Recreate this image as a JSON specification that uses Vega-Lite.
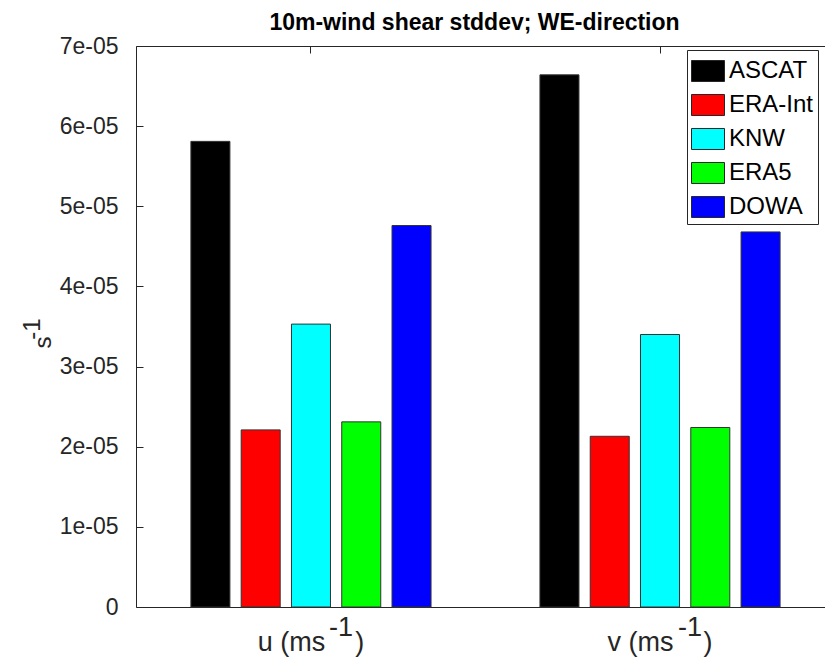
{
  "$schema": "https://vega.github.io/schema/vega-lite/v6.json",
  "autosize": {"type": "none"},
  "width": 689,
  "height": 561,
  "padding": {"left": 136, "top": 46, "right": 0, "bottom": 52},
  "background": "white",
  "config": {
    "view": {"stroke": null},
    "font": "Liberation Sans",
    "axis": {"grid": false, "domainColor": "#262626", "tickColor": "#262626", "labelColor": "#262626", "titleColor": "#262626", "labelFont": "Liberation Sans", "titleFont": "Liberation Sans", "labelFontSize": 23, "titleFontSize": 24, "titleFontWeight": "normal", "domainWidth": 1}
  },
  "title": {"text": "10m-wind shear stddev; WE-direction", "font": "Liberation Sans", "fontSize": 23, "fontWeight": "bold", "color": "#000000", "anchor": "middle", "dx": -6, "offset": 0},
  "data": {"values": [
    {"component": "u", "source": "ASCAT", "value": 5.81e-5},
    {"component": "u", "source": "ERA-Int", "value": 2.21e-5},
    {"component": "u", "source": "KNW", "value": 3.53e-5},
    {"component": "u", "source": "ERA5", "value": 2.31e-5},
    {"component": "u", "source": "DOWA", "value": 4.76e-5},
    {"component": "v", "source": "ASCAT", "value": 6.64e-5},
    {"component": "v", "source": "ERA-Int", "value": 2.13e-5},
    {"component": "v", "source": "KNW", "value": 3.40e-5},
    {"component": "v", "source": "ERA5", "value": 2.24e-5},
    {"component": "v", "source": "DOWA", "value": 4.68e-5}
  ]},
  "layer": [
    {
      "mark": {"type": "bar", "stroke": "#333333", "strokeWidth": 1},
      "encoding": {
        "x": {"field": "component", "type": "nominal", "sort": ["u", "v"],
          "scale": {"paddingInner": 0.312, "paddingOuter": 0.143, "align": 0.55},
          "axis": {"title": null, "orient": "bottom", "labelAngle": 0, "tickSize": -7, "labelPadding": 41, "labelFontSize": 27, "labelBaseline": "bottom", "labelLineHeight": 15, "labelDx": -8,
            "labelExpr": "['\u200b\u00a0\u00a0\u00a0\u00a0\u00a0\u00a0\u00a0\u00a0-1', datum.value + ' (ms\u00a0\u00a0\u00a0\u00a0)']"}},
        "xOffset": {"field": "source", "type": "nominal", "sort": ["ASCAT", "ERA-Int", "KNW", "ERA5", "DOWA"],
          "scale": {"paddingInner": 0.224, "paddingOuter": 0}},
        "y": {"field": "value", "type": "quantitative",
          "scale": {"domain": [0, 7e-5], "nice": false, "zero": true},
          "axis": {"title": ["\u200b\u00a0\u00a0\u00a0\u00a0-1", "s\u00a0\u00a0\u00a0\u00a0"], "titleLineHeight": 11, "values": [0, 1e-5, 2e-5, 3e-5, 4e-5, 5e-5, 6e-5, 7e-5], "tickSize": -7, "labelPadding": 25,
            "labelExpr": "datum.value == 0 ? '0' : replace(format(datum.value, '.0e'), 'e-', 'e-0')",
            "titleX": -92, "titleY": 296, "titleAngle": 270, "titleBaseline": "bottom", "titleAlign": "center"}},
        "color": {"field": "source", "type": "nominal", "sort": ["ASCAT", "ERA-Int", "KNW", "ERA5", "DOWA"],
          "scale": {"domain": ["ASCAT", "ERA-Int", "KNW", "ERA5", "DOWA"], "range": ["#000000", "#ff0000", "#00ffff", "#00ff00", "#0000ff"]},
          "legend": {"title": null, "orient": "none", "legendX": 551, "legendY": 4, "strokeColor": "#262626", "fillColor": "white", "padding": 4,
            "symbolType": "M-1,-0.636L1,-0.636L1,0.636L-1,0.636Z", "symbolSize": 1089, "symbolStrokeColor": "#262626", "symbolStrokeWidth": 1,
            "labelFontSize": 24, "labelFont": "Liberation Sans", "labelColor": "#000000", "rowPadding": 4, "labelOffset": 4, "labelLimit": 300}}
      }
    },
    {
      "mark": {"type": "point", "opacity": 0},
      "encoding": {
        "x": {"field": "component", "type": "nominal", "sort": ["u", "v"],
          "axis": {"orient": "top", "title": null, "labels": false, "tickSize": -7}},
        "y": {"field": "value", "type": "quantitative"}
      }
    }
  ],
  "resolve": {"axis": {"x": "independent"}}
}
